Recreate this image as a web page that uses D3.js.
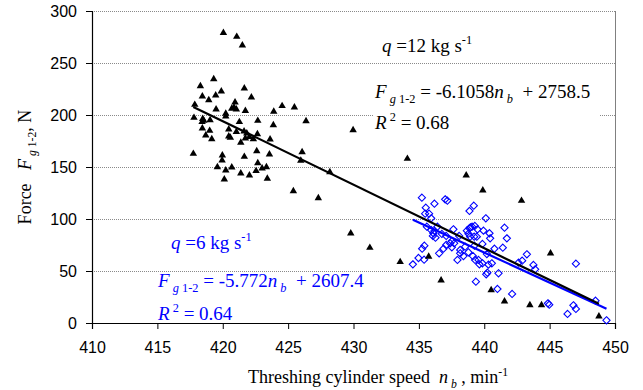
<!DOCTYPE html>
<html>
<head>
<meta charset="utf-8">
<script src="https://cdn.jsdelivr.net/npm/d3@7"></script>
<style>
  html, body { margin: 0; padding: 0; background: #fff; }
  svg text { font-family: "Liberation Serif", "Times New Roman", serif; }
  .tick text { font-family: "Liberation Sans", Arial, sans-serif; }
</style>
</head>
<body>
<div id="chart"></div>
<script>
// q = 12 kg/s (black triangles)
const q12Speed = [420.05,421.07,421.5,419.31,418.29,421.65,419.89,418.44,419.46,418.93,422.19,420.94,417.86,419.49,420.69,420.86,421.04,421.73,423.9,424.54,425.48,420.23,420.23,417.8,418.47,418.55,418.42,419.03,421.27,422.68,426.37,423.87,418.44,419.0,420.46,421.04,421.63,421.84,421.73,422.04,418.7,419.16,420.46,420.58,421.38,422.34,422.65,423.62,417.75,419.97,422.6,423.57,426.07,419.95,421.65,425.97,419.59,420.23,420.69,422.68,423.01,423.34,421.38,422.04,422.55,420.12,423.41,428.19,425.4,427.31,429.97,434.12,429.79,431.25,433.57,435.75,436.7,438.62,439.89,442.85,445.07,440.53,441.55,443.49,444.38,448.77];
const q12Force = [279.1,275.3,267.0,234.6,227.9,225.7,222.8,218.0,218.9,214.4,217.0,212.2,209.9,205.5,206.1,207.4,205.5,204.1,203.2,208.7,207.4,201.3,198.8,197.4,196.4,194.5,193.3,195.2,193.3,194.5,194.2,190.4,187.2,184.9,186.3,183.9,184.3,182.4,177.6,179.1,180.5,176.9,179.5,178.2,173.4,176.9,181.7,176.6,162.8,161.3,165.4,162.2,164.4,156.4,159.9,156.1,150.0,146.8,149.7,153.8,148.8,150.0,143.9,142.0,146.2,138.2,138.8,145.2,126.9,120.2,185.6,158.0,86.3,72.4,58.7,63.9,41.1,142.0,127.6,117.6,67.0,31.7,20.9,17.3,17.3,6.4];

// q = 6 kg/s (blue diamonds)
const q6Speed = [435.23,435.53,436.19,437.01,437.18,435.48,435.78,435.94,439.2,438.87,440.12,441.55,441.73,435.61,435.94,436.11,436.27,436.07,436.42,436.76,437.09,437.64,437.39,437.7,438.67,438.87,439.07,439.28,439.48,439.23,438.92,439.94,440.4,440.45,439.86,440.78,441.42,435.25,435.42,434.97,434.54,435.4,436.55,436.88,437.09,437.52,437.95,438.16,438.41,438.79,439.13,439.3,439.63,439.86,440.2,440.32,440.58,440.15,440.24,441.09,439.36,441.01,443.26,442.9,442.62,443.76,443.89,447.01,442.13,444.87,444.97,446.37,446.82,447.01,448.51,449.35,438.08,438.79,439.43,439.56,437.52,438.16,438.54,439.25,436.19,438.94];
const q6Force = [120.5,110.9,114.7,118.9,117.6,105.1,105.1,100.7,112.8,107.7,100.7,91.6,81.4,92.6,89.4,86.3,82.0,83.7,92.6,85.6,83.7,90.1,76.6,76.6,88.8,91.1,92.6,93.3,90.1,83.0,83.0,88.8,86.3,81.4,76.0,71.4,72.4,71.4,74.3,62.5,56.4,60.9,67.0,71.4,75.0,72.8,60.6,67.0,64.4,68.0,64.4,60.6,56.4,57.4,66.3,56.1,57.4,46.8,48.4,47.8,39.7,32.7,66.1,59.9,58.0,55.8,51.6,57.0,27.9,18.9,17.6,8.7,17.0,13.5,21.4,2.6,83.7,85.9,83.0,60.6,78.8,70.2,73.4,74.3,88.5,92.0];

// linear trend lines: F = slope * n + intercept
const q12Trend = { slope: -6.1058, intercept: 2758.5 };
const q6Trend = { slope: -5.772, intercept: 2607.4 };

const xTicks = [410, 415, 420, 425, 430, 435, 440, 445, 450];
const yTicks = [0, 50, 100, 150, 200, 250, 300];

const width = 643, height = 390;
const margin = { top: 11, right: 28, bottom: 67, left: 92 };
const innerW = width - margin.left - margin.right;
const innerH = height - margin.top - margin.bottom;
const blue = '#0000ff';

const svg = d3.select('#chart').append('svg').attr('width', width).attr('height', height);
svg.append('rect').attr('width', width).attr('height', height).attr('fill', '#fff');
const g = svg.append('g').attr('transform', `translate(${margin.left},${margin.top})`);

const x = d3.scaleLinear().domain([410, 450]).range([0, innerW]);
const y = d3.scaleLinear().domain([0, 300]).range([innerH, 0]);

// gridlines
g.append('g').selectAll('line').data(yTicks.filter(d => d > 0)).join('line')
  .attr('x1', 0).attr('x2', innerW)
  .attr('y1', d => y(d) + 0.5).attr('y2', d => y(d) + 0.5)
  .attr('stroke', '#8a8a8a').attr('stroke-width', 1).attr('stroke-dasharray', '1,1');
// right frame
g.append('line').attr('x1', innerW + 0.5).attr('x2', innerW + 0.5).attr('y1', 0).attr('y2', innerH)
  .attr('stroke', '#808080');

// white box behind the q=12 equation (covers gridline like the original)
g.append('rect').attr('x', 281).attr('y', 70).attr('width', 227).attr('height', 58).attr('fill', '#fff');

// axes
const xAxis = g.append('g').attr('transform', `translate(0,${innerH})`)
  .call(d3.axisBottom(x).tickValues(xTicks).tickSize(6).tickPadding(13));
const yAxis = g.append('g')
  .call(d3.axisLeft(y).tickValues(yTicks).tickSize(6).tickPadding(9));
[xAxis, yAxis].forEach(a => {
  a.select('.domain').attr('stroke', '#000').attr('stroke-width', 1.2);
  a.selectAll('.tick line').attr('stroke', '#000');
  a.selectAll('.tick text').attr('font-size', 16).attr('fill', '#000');
});

// points
const q6 = q6Speed.map((n, i) => [n, q6Force[i]]);
const q12 = q12Speed.map((n, i) => [n, q12Force[i]]);
const r = 3.6;
g.append('g').selectAll('path').data(q6).join('path')
  .attr('d', d => `M${x(d[0])},${y(d[1]) - r}L${x(d[0]) + r},${y(d[1])}L${x(d[0])},${y(d[1]) + r}L${x(d[0]) - r},${y(d[1])}Z`)
  .attr('fill', 'none').attr('stroke', blue).attr('stroke-width', 1.1);
const tri = d3.symbol().type(d3.symbolTriangle).size(24);
g.append('g').selectAll('path').data(q12).join('path')
  .attr('transform', d => `translate(${x(d[0])},${y(d[1])})`)
  .attr('d', tri).attr('fill', '#000');

// trend lines over the data range
function trend(speeds, t, color) {
  const ext = d3.extent(speeds);
  const pts = ext.map(n => [n, t.slope * n + t.intercept]);
  g.append('path').datum(pts)
    .attr('d', d3.line().x(d => x(d[0])).y(d => y(d[1])))
    .attr('stroke', color).attr('stroke-width', 2.2).attr('fill', 'none');
}
trend(q6Speed, q6Trend, blue);
trend(q12Speed, q12Trend, '#000');

// rich text helper: segments [text, opts]
function rich(parent, px, py, segs, size, color) {
  const t = parent.append('text').attr('x', px).attr('y', py)
    .attr('font-size', size).attr('fill', color).attr('xml:space', 'preserve');
  let shift = 0;
  segs.forEach(([txt, o = {}]) => {
    const target = o.sub ? size * 0.25 : o.sup ? -size * 0.4 : 0;
    const s = t.append('tspan').text(txt)
      .attr('font-size', o.sub || o.sup ? size * 0.65 : size);
    if (target !== shift) { s.attr('dy', target - shift); shift = target; }
    if (o.i) s.attr('font-style', 'italic');
  });
  return t;
}

const fs = 19;
// q = 12 annotations
rich(svg, 382, 52, [['q', { i: true }], [' =12 kg s'], ['-1', { sup: true }]], fs, '#000');
rich(svg, 375, 98, [['F', { i: true }], [' g', { i: true, sub: true }], [' 1-2', { sub: true }], [' = -6.1058'], ['n', { i: true }], [' b', { i: true, sub: true }], ['  + 2758.5']], fs, '#000');
rich(svg, 375, 129, [['R', { i: true }], [' 2', { sup: true }], [' = 0.68']], fs, '#000');

// q = 6 annotations
rich(svg, 171, 249, [['q', { i: true }], [' =6 kg s'], ['-1', { sup: true }]], fs, blue);
rich(svg, 158, 287, [['F', { i: true }], [' g', { i: true, sub: true }], [' 1-2', { sub: true }], [' = -5.772'], ['n', { i: true }], [' b', { i: true, sub: true }], ['  + 2607.4']], fs, blue);
rich(svg, 158, 320, [['R', { i: true }], [' 2', { sup: true }], [' = 0.64']], fs, blue);

// axis titles
const xt = rich(svg, 378, 383, [['Threshing cylinder speed  '], ['n', { i: true }], [' b', { i: true, sub: true }], [' , min'], ['-1', { sup: true }]], 18, '#000');
xt.attr('text-anchor', 'middle');
const yt = rich(svg, 0, 0, [['Force   '], ['F', { i: true }], [' g', { i: true, sub: true }], [' 1-2', { sub: true }], [', N']], 18, '#000');
yt.attr('text-anchor', 'middle').attr('transform', 'translate(31,167) rotate(-90)');
</script>
</body>
</html>
